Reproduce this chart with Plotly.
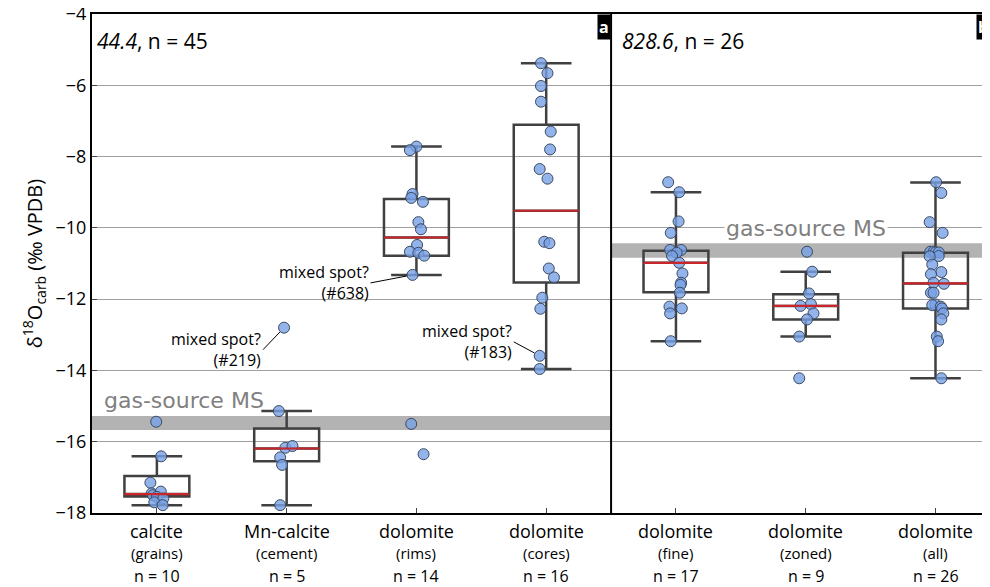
import plotly.graph_objects as go

# category positions on one shared numeric x axis
positions = [1, 2, 3, 4, 5, 6, 7]
names = ["calcite", "Mn-calcite", "dolomite", "dolomite", "dolomite", "dolomite", "dolomite"]
subs = ["(grains)", "(cement)", "(rims)", "(cores)", "(fine)", "(zoned)", "(all)"]
counts = ["n = 10", "n = 5", "n = 14", "n = 16", "n = 17", "n = 9", "n = 26"]

# box stats
q1 = [-17.54, -16.55, -10.78, -11.53, -11.81, -12.57, -12.26]
med = [-17.47, -16.19, -10.27, -9.52, -10.98, -12.19, -11.56]
q3 = [-16.96, -15.63, -9.19, -7.11, -10.64, -11.86, -10.70]
lo = [-17.78, -17.78, -11.32, -13.96, -13.18, -13.05, -14.22]
hi = [-16.41, -15.14, -7.72, -5.38, -9.00, -11.23, -8.73]

# individual spots (values, jitter offsets)
pts_y = [
    [-15.44, -16.41, -17.15, -17.45, -17.50, -17.40, -17.55, -17.59, -17.70, -17.78],
    [-15.14, -16.17, -16.12, -16.44, -16.65, -17.78, -12.80],
    [-7.72, -7.82, -9.05, -9.16, -9.27, -9.84, -10.04, -10.48, -10.67, -10.70, -10.78, -11.32, -15.50, -16.35],
    [-5.38, -5.66, -6.02, -6.46, -7.30, -7.80, -8.35, -8.62, -10.39, -10.43, -11.14, -11.39, -11.96, -12.27, -13.59, -13.96],
    [-8.72, -9.00, -9.82, -10.14, -10.62, -10.62, -10.70, -10.79, -10.98, -11.28, -11.54, -11.60, -11.82, -12.21, -12.26, -12.40, -13.18],
    [-10.67, -11.23, -11.84, -12.14, -12.19, -12.40, -12.57, -13.05, -14.22],
    [-8.72, -9.02, -9.84, -10.14, -10.67, -10.67, -10.69, -10.69, -10.79, -10.80, -11.03, -11.24, -11.30, -11.54,
     -11.57, -11.82, -11.82, -12.15, -12.17, -12.21, -12.26, -12.40, -12.57, -13.05, -13.18, -14.22],
]
pts_dx = [
    [-0.005, 0.033, -0.05, -0.04, -0.03, 0.03, 0.0, 0.05, -0.02, 0.045],
    [-0.06, -0.01, 0.045, -0.05, -0.035, -0.05, -0.02],
    [0.0, -0.05, -0.03, -0.04, 0.05, 0.015, 0.035, 0.005, -0.05, 0.015, 0.06, -0.03, -0.04, 0.055],
    [-0.04, 0.01, -0.04, -0.04, 0.035, 0.03, -0.05, 0.01, -0.015, 0.025, 0.02, 0.06, -0.03, -0.045, -0.05, -0.05],
    [-0.06, 0.025, 0.02, -0.04, -0.045, 0.04, 0.005, -0.03, 0.025, 0.05, 0.04, 0.035, 0.03, -0.05, 0.045, -0.045, -0.04],
    [0.01, 0.05, 0.025, 0.04, -0.04, 0.06, 0.01, -0.05, -0.05],
    [0.005, 0.045, -0.045, 0.055, -0.04, -0.015, 0.0, 0.025, 0.025, -0.045, -0.025, 0.045, -0.035, -0.015,
     0.065, -0.035, -0.015, 0.0, -0.025, 0.04, 0.05, 0.06, 0.045, 0.01, 0.02, 0.045],
]

band_left = [-15.28, -15.67]
band_right = [-10.43, -10.84]
split = 4.5
xmax = 7.42

fig = go.Figure()
for i, p in enumerate(positions):
    fig.add_trace(go.Box(
        x=[p], q1=[q1[i]], median=[med[i]], q3=[q3[i]], lowerfence=[lo[i]], upperfence=[hi[i]],
        width=0.5, whiskerwidth=0.78, fillcolor="rgba(0,0,0,0)",
        line=dict(color="#404040", width=2.5), boxpoints=False, showlegend=False, hoverinfo="skip"))
    fig.add_shape(type="line", x0=p - 0.25, x1=p + 0.25, y0=med[i], y1=med[i],
                  line=dict(color="#c8262b", width=2.2))
    fig.add_trace(go.Scatter(
        x=[p + d for d in pts_dx[i]], y=pts_y[i], mode="markers", showlegend=False,
        marker=dict(size=11, color="rgba(120,160,230,0.8)", line=dict(color="#3a4a60", width=1))))
    # category labels (three rows)
    for txt, shift, size in [(names[i], -4, 18), (subs[i], -28, 15), (counts[i], -50, 16)]:
        fig.add_annotation(x=p, y=0, yref="paper", yanchor="top", yshift=shift, text=txt,
                           showarrow=False, font=dict(size=size, color="black"))

# gas-source MS bands
fig.add_shape(type="rect", x0=0.5, x1=split, y0=band_left[1], y1=band_left[0],
              fillcolor="#b3b3b3", line_width=0, layer="below")
fig.add_shape(type="rect", x0=split, x1=xmax, y0=band_right[1], y1=band_right[0],
              fillcolor="#b3b3b3", line_width=0, layer="below")
fig.add_shape(type="line", x0=split, x1=split, y0=-18, y1=-4, line=dict(color="black", width=2))

fig.add_annotation(x=0.58, y=-14.85, text="gas-source MS", showarrow=False, xanchor="left",
                   font=dict(size=22, color="#808080", family="DejaVu Sans"))
fig.add_annotation(x=6.0, y=-10.03, text="gas-source MS", showarrow=False, bgcolor="white",
                   font=dict(size=22, color="#808080", family="DejaVu Sans"))

fig.add_annotation(x=0.52, y=-4.75, text="<i>44.4</i>, n = 45", showarrow=False, xanchor="left",
                   font=dict(size=21, color="black"))
fig.add_annotation(x=4.57, y=-4.75, text="<i>828.6</i>, n = 26", showarrow=False, xanchor="left",
                   font=dict(size=21, color="black"))
fig.add_annotation(x=split, y=-4.0, text="<b>a</b>", showarrow=False, xanchor="right", yanchor="top",
                   bgcolor="black", borderpad=1, font=dict(size=16, color="white"))
fig.add_annotation(x=xmax, y=-4.0, text="<b>b</b>", showarrow=False, xanchor="left", yanchor="top",
                   xshift=-14, bgcolor="black", borderpad=1, font=dict(size=16, color="white"))

# mixed spot callouts
for (px_, py_, lbl, ax, ay) in [(2 - 0.02, -12.80, "#219", -21, 22), (3 - 0.03, -11.32, "#638", -42, 8),
                               (4 - 0.05, -13.59, "#183", -26, -14)]:
    fig.add_annotation(x=px_, y=py_, text="mixed spot?<br>(" + lbl + ")", showarrow=True, arrowhead=0,
                       arrowwidth=1, arrowcolor="black", ax=ax, ay=ay, xanchor="right", align="right",
                       standoff=6, font=dict(size=16, color="black"))

fig.update_layout(
    width=990, height=587, margin=dict(l=84, r=8, t=6, b=82, autoexpand=False),
    plot_bgcolor="white", paper_bgcolor="white",
    font=dict(family="Open Sans", size=18, color="black"),
    xaxis=dict(range=[0.5, xmax], tickvals=positions, showticklabels=False, ticks="inside", ticklen=5,
               showgrid=False, zeroline=False, showline=True, linecolor="black", linewidth=2, mirror=True,
               automargin=False),
    yaxis=dict(range=[-18, -4], dtick=2, showgrid=True, gridcolor="#a0a0a0", gridwidth=1, zeroline=False,
               showline=True, linecolor="black", linewidth=2, mirror=True, ticks="inside", ticklen=5,
               automargin=False, tickfont=dict(size=18), ticklabeloverflow="allow",
               title=dict(text="δ<sup>18</sup>O<sub>carb</sub> (‰ VPDB)", standoff=8, font=dict(size=20))),
)

fig.write_html("out.html")
